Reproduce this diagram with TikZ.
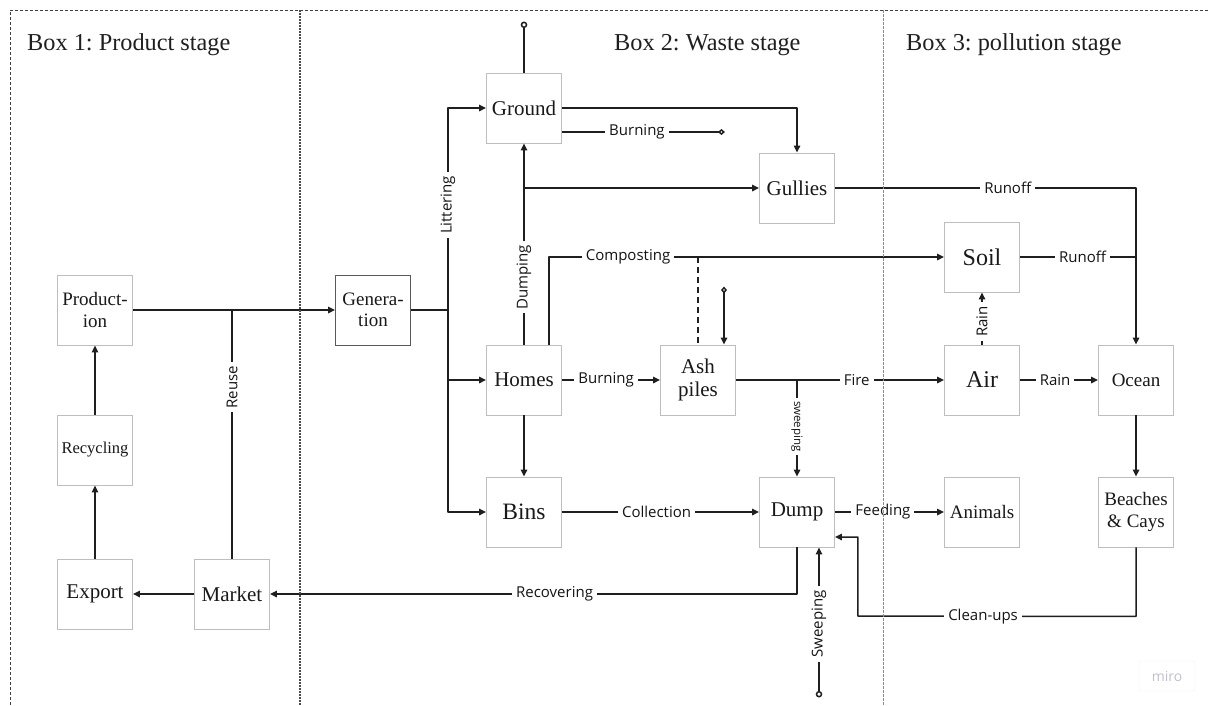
\documentclass[tikz,border=0pt]{standalone}
\usepackage{fontspec}
\setmainfont{Liberation Serif}
\newfontfamily\lblfont{Open Sans}
\usetikzlibrary{arrows.meta,calc}
\definecolor{mirogrey}{RGB}{192,192,206}
\definecolor{boxgrey}{RGB}{190,190,190}
\frenchspacing
\begin{document}
\begin{tikzpicture}[x=1pt,y=-1pt,
  >={Triangle[length=7pt,width=6.5pt]},
  box/.style={draw=boxgrey, line width=0.9pt, fill=white, minimum width=75pt, minimum height=70pt,
    inner sep=1pt, align=center, text=black!90, font=\fontsize{21}{24}\selectfont},
  conn/.style={line width=1.5pt, draw=black!88, line join=round},
  arr/.style={conn,->},
  lbl/.style={fill=white, font=\lblfont\fontsize{15}{16}\selectfont, inner xsep=4pt, inner ysep=1pt, text=black!92},
  smalllbl/.style={lbl, font=\lblfont\fontsize{11.5}{12}\selectfont, inner xsep=3pt},
  title/.style={anchor=base west, inner sep=0pt, text=black!88, font=\fontsize{24.3}{27}\selectfont}
]
\useasboundingbox (0,0) rectangle (1208,705);

% titles
\node[title] (t1) at (27,50) {Box 1: Product stage};
\node[title] (t2) at (614,50) {Box 2: Waste stage};
\node[title] (t3) at (906,50) {Box 3: pollution stage};

% nodes
\node[box, font=\fontsize{19}{22}\selectfont] (prod) at (95,310) {Product-\\ion};
\node[box, font=\fontsize{16.5}{18}\selectfont] (recy) at (95,450) {Recycling};
\node[box] (export) at (95,594) {Export};
\node[box] (market) at (232,594) {Market};
\node[box, draw=black!65, font=\fontsize{19}{21}\selectfont] (gen) at (373,310) {Genera-\\tion};
\node[box] (ground) at (524,108) {Ground};
\node[box] (gullies) at (797,188) {Gullies};
\node[box] (homes) at (524,380) {Homes};
\node[box, font=\fontsize{21}{23}\selectfont] (ash) at (698,380) {Ash\\piles};
\node[box, font=\fontsize{23.5}{26}\selectfont] (bins) at (524,512) {Bins};
\node[box] (dump) at (797,512) {Dump};
\node[box, font=\fontsize{24}{26}\selectfont] (soil) at (982,257) {Soil};
\node[box, font=\fontsize{24}{26}\selectfont] (air) at (982,380) {Air};
\node[box, font=\fontsize{19}{21}\selectfont] (ocean) at (1136,380) {Ocean};
\node[box, font=\fontsize{19}{21}\selectfont] (animals) at (982,512) {Animals};
\node[box, font=\fontsize{19}{22}\selectfont] (beaches) at (1136,512) {Beaches\\\& Cays};

% product stage
\draw[arr] (recy.north) -- (prod.south);
\draw[arr] (export.north) -- (recy.south);
\draw[arr] (market.west) -- (export.east);
\draw[arr] (prod.east) -- (gen.west);
\draw[conn] (market.north) -- node[lbl,rotate=90,pos=0.69]{Reuse} (market.north |- prod.east);

% generation branches
\coordinate (jg) at (448,310);
\draw[conn] (gen.east) -- (jg);
\draw[arr] (jg) |- node[lbl,rotate=90,pos=0.26]{Littering} (ground.west);
\draw[arr] (jg) |- (homes.west);
\draw[arr] (jg) |- (bins.west);

% ground
\draw[conn,-{Circle[open,length=6.5pt,width=6.5pt]}] (ground.north) -- ++(0,-51);
\draw[conn,-{Diamond[open,length=7pt,width=6pt]}] ($(ground.east)+(0,24)$) -- node[lbl,pos=0.46]{Burning} ++(163,0);
\draw[arr] (ground.east) -| (gullies.north);

% homes
\draw[arr] (homes.north) -- node[lbl,rotate=90,pos=0.335]{Dumping} (ground.south);
\draw[arr] (homes.north |- gullies.west) -- (gullies.west);
\draw[arr] ($(homes.north)+(25,0)$) |- node[lbl,pos=0.6]{Composting} (soil.west);
\draw[conn,dash pattern=on 6pt off 4pt] (ash.north |- soil.west) -- (ash.north);
\draw[conn,{Diamond[open,length=7pt,width=6pt]}->] ($(ash.north)+(26,-58)$) -- ($(ash.north)+(26,0)$);
\draw[arr] (homes.east) -- node[lbl,pos=0.45]{Burning} (ash.west);
\draw[arr] (homes.south) -- (bins.north);

% ash piles
\draw[arr] (ash.east) -- node[lbl,pos=0.58]{Fire} (air.west);
\draw[arr] (ash.east -| dump.north) -- node[smalllbl,rotate=-90,pos=0.48]{sweeping} (dump.north);

% dump
\draw[arr] (bins.east) -- node[lbl,pos=0.48]{Collection} (dump.west);
\draw[arr] (dump.east) -- node[lbl,pos=0.44]{Feeding} (animals.west);
\draw[arr] (dump.south) |- node[lbl,pos=0.73]{Recovering} (market.east);
\draw[conn,{Circle[open,length=6.5pt,width=6.5pt]}->] ($(dump.south)+(22,150)$) -- node[lbl,rotate=90,pos=0.49]{Sweeping} ($(dump.south)+(22,0)$);
\draw[arr] (beaches.south) -- ($(beaches.south)+(0,69)$) -- node[lbl,pos=0.55]{Clean-ups} ($(dump.east)+(23,104)$) -- ($(dump.east)+(23,25)$) -- ($(dump.east)+(0,25)$);

% pollution
\draw[arr] (gullies.east) -| node[lbl,pos=0.287]{Runoff} (ocean.north);
\draw[conn] (soil.east) -- node[lbl,pos=0.54]{Runoff} (soil.east -| ocean.north);
\draw[arr] (air.north) -- node[lbl,rotate=90,pos=0.44]{Rain} (soil.south);
\draw[arr] (air.east) -- node[lbl,pos=0.45]{Rain} (ocean.west);
\draw[arr] (ocean.south) -- (beaches.north);

% frame and dividers
\draw[black!75, line width=0.7pt, dash pattern=on 3pt off 2pt] (1208,10) -- (10,10) -- (10,705);
\draw[black!70, line width=1.1pt, dash pattern=on 2pt off 1pt] (300,10) -- (300,705);
\draw[black!45, line width=0.9pt, dash pattern=on 2.5pt off 1.5pt] (883,10) -- (883,705);

% watermark
\node[draw=black!6, rounded corners=2pt, minimum width=56pt, minimum height=30pt, text=mirogrey,
  font=\lblfont\fontsize{14}{14}\selectfont] (miro) at (1167,676) {miro};
\end{tikzpicture}
\end{document}
